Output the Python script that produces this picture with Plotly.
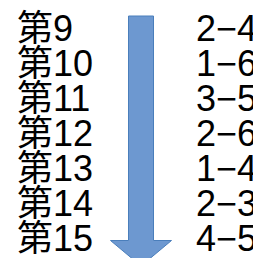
import plotly.graph_objects as go

# Data
rounds = ["第9", "第10", "第11", "第12", "第13", "第14", "第15"]
scores = ["2−4", "1−6", "3−5", "2−6", "1−4", "2−3", "4−5"]

W, H = 261, 258
row_top_px = 20.0   # pixel centre of first row (annotation box)
row_pitch = 35.0    # pixels per row

idx = list(range(len(rounds)))
y_top = -row_top_px / row_pitch
y_bot = y_top + H / row_pitch

font = dict(family="Liberation Sans, Noto Sans CJK JP, sans-serif", size=36, color="black")

fig = go.Figure()
for i, (r, s) in enumerate(zip(rounds, scores)):
    fig.add_annotation(x=8, y=i, text=r, showarrow=False, xanchor="left",
                       yanchor="middle", font=font, borderpad=0)
    fig.add_annotation(x=187, y=i, text=s, showarrow=False, xanchor="left",
                       yanchor="middle", font=font, borderpad=0)

def py(p):  # pixel -> paper y
    return 1 - p / H

# down arrow shape (paper coords in y, pixels on x axis)
xl, xr = 120.5, 145.5
hl, hr = 102.5, 163.5
tipx = 133
top, neck, tip = 8, 232.5, 258
path = (f"M {xl},{py(top)} L {xr},{py(top)} L {xr},{py(neck)} L {hr},{py(neck)} "
        f"L {tipx},{py(tip)} L {hl},{py(neck)} L {xl},{py(neck)} Z")
fig.add_shape(type="path", path=path, xref="x", yref="paper",
              fillcolor="#6D98D0", line=dict(color="#4A7EBB", width=1), layer="below")

fig.update_layout(
    width=W, height=H, margin=dict(l=0, r=0, t=0, b=0),
    paper_bgcolor="white", plot_bgcolor="white",
    xaxis=dict(range=[0, W], visible=False, fixedrange=True),
    yaxis=dict(range=[y_bot, y_top], visible=False, fixedrange=True),
)
fig.write_html("out.html")
